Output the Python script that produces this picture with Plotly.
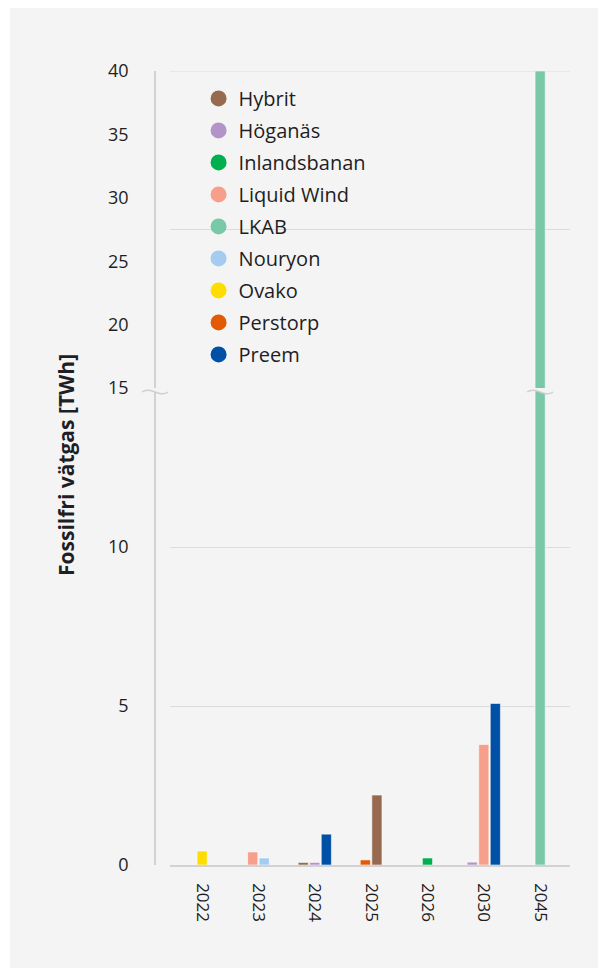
import plotly.graph_objects as go

# ---------------- data ----------------
years = ["2022", "2023", "2024", "2025", "2026", "2030", "2045"]
series_names = ["Hybrit", "Höganäs", "Inlandsbanan", "Liquid Wind", "LKAB",
                "Nouryon", "Ovako", "Perstorp", "Preem"]
hybrit = [0, 0, 0.08, 2.2, 0, 0, 0]
hoganas = [0, 0, 0.08, 0, 0, 0.09, 0]
inlandsbanan = [0, 0, 0, 0, 0.22, 0, 0]
liquid_wind = [0, 0.41, 0, 0, 0, 3.79, 0]
lkab = [0, 0, 0, 0, 0, 0, 40]
nouryon = [0, 0.22, 0, 0, 0, 0, 0]
ovako = [0.44, 0, 0, 0, 0, 0, 0]
perstorp = [0, 0, 0, 0.16, 0, 0, 0]
preem = [0, 0, 0.97, 0, 0, 5.08, 0]
values = [hybrit, hoganas, inlandsbanan, liquid_wind, lkab,
          nouryon, ovako, perstorp, preem]
colors = ["#976a50", "#b393c8", "#00b04f", "#f6a08c", "#79c8a7",
          "#a5cbf1", "#ffdd00", "#e25b04", "#0051a5"]
# order of bars inside a year group where it differs from the legend order
group_order = {"2025": ["Perstorp", "Hybrit"]}

lower_ticks = [0, 5, 10, 15]
upper_ticks = [20, 25, 30, 35, 40]
y_title = "Fossilfri vätgas [TWh]"

# ---------------- layout constants ----------------
W, H = 600, 970
ML, MR, MT, MB = 155, 30, 71, 105
PW, PH = W - ML - MR, H - MT - MB
x_dom0 = 15 / PW
split = 477 / PH
BG = "#f4f4f4"
GRID = "#dcdcdc"
TXT = "#1e1e24"
FONT = "Open Sans"
BAR_W = 0.18
BAR_STEP = 0.205

# compute offsets of bars inside each year group
offsets = {}
for yi, yr in enumerate(years):
    present = [n for n, v in zip(series_names, values) if v[yi] > 0]
    if yr in group_order:
        present = group_order[yr]
    n = len(present)
    for i, name in enumerate(present):
        offsets[(name, yr)] = -n * BAR_STEP / 2 + i * BAR_STEP + (BAR_STEP - BAR_W) / 2

fig = go.Figure()
for name, vals, col in zip(series_names, values, colors):
    xs = [yr for yr, v in zip(years, vals) if v > 0]
    ys = [v for v in vals if v > 0]
    offs = [offsets[(name, yr)] for yr in xs]
    for yax in ["y", "y2"]:
        fig.add_trace(go.Bar(
            x=xs, y=ys, name=name, xaxis="x", yaxis=yax,
            offset=offs, width=BAR_W,
            marker=dict(color=col, line=dict(color="rgba(255,255,255,0.55)", width=1)),
            showlegend=False, hoverinfo="x+y+name"))
    # legend entry with circle symbol
    fig.add_trace(go.Scatter(
        x=[None], y=[None], mode="markers", name=name, legendgroup=name,
        marker=dict(color=col, size=16, symbol="circle"), xaxis="x", yaxis="y"))

fig.update_layout(
    width=W, height=H,
    margin=dict(l=ML, r=MR, t=MT, b=MB, autoexpand=False),
    paper_bgcolor="white", plot_bgcolor="rgba(0,0,0,0)",
    font=dict(family=FONT, color=TXT),
    barmode="overlay",
    showlegend=True,
    legend=dict(x=0.105, y=0.99, xanchor="left", yanchor="top",
                bgcolor="rgba(0,0,0,0)", font=dict(size=20, color=TXT, family=FONT),
                tracegroupgap=3, itemclick=False, itemdoubleclick=False),
    xaxis=dict(domain=[x_dom0, 1], type="category", categoryorder="array",
               categoryarray=years, range=[-0.57, 6.53],
               showline=True, linecolor="#d2d2d2", linewidth=1.5,
               ticks="outside", ticklen=13, tickcolor="rgba(0,0,0,0)",
               tickangle=90, tickfont=dict(size=17, color=TXT),
               showgrid=False, anchor="y", fixedrange=True),
    yaxis=dict(domain=[0, split], range=[0, 15], tickvals=lower_ticks,
               anchor="free", position=0, showline=True, linecolor="#d2d2d2", linewidth=1.5,
               showgrid=True, gridcolor=GRID, gridwidth=1, zeroline=False,
               ticks="outside", ticklen=22, tickcolor="rgba(0,0,0,0)",
               tickfont=dict(size=18, color=TXT), fixedrange=True),
    yaxis2=dict(domain=[split, 1], range=[15, 40], tickvals=upper_ticks,
                anchor="free", position=0, showline=True, linecolor="#d2d2d2", linewidth=1.5,
                showgrid=False, zeroline=False,
                ticks="outside", ticklen=22, tickcolor="rgba(0,0,0,0)",
                tickfont=dict(size=18, color=TXT), fixedrange=True),
)

# panel background
fig.add_shape(type="rect", xref="paper", yref="paper", layer="below",
              x0=(10 - ML) / PW, x1=(598 - ML) / PW,
              y0=(PH + MT - 968) / PH, y1=(PH + MT - 8) / PH,
              fillcolor=BG, line=dict(width=0))
# upper-part gridlines
for gv in [27.5, 40]:
    fig.add_shape(type="line", xref="x domain", yref="y2", x0=0, x1=1, y0=gv, y1=gv,
                  layer="below", line=dict(color=GRID, width=1))

# axis break marks
def wave(dy):
    return f"M -13,{dy} C -4,{dy + 6} 4,{dy - 6} 13,{dy}"

fill_path = "M -13,4 C -4,10 4,-2 13,4 L 13,-4 C 4,-10 -4,2 -13,-4 Z"
# hide start of the 15 gridline next to the axis break
fig.add_shape(type="rect", xref="paper", yref="y", xsizemode="pixel", ysizemode="pixel",
              xanchor=0, yanchor=15, x0=0, x1=30, y0=-2, y1=2,
              fillcolor=BG, line=dict(width=0), layer="above")
for xref, xa in [("paper", 0), ("x", 6)]:
    fig.add_shape(type="path", xref=xref, yref="y", xsizemode="pixel", ysizemode="pixel",
                  xanchor=xa, yanchor=15, path=fill_path, fillcolor=BG,
                  line=dict(width=0), layer="above")
    for dy in [4, -4]:
        fig.add_shape(type="path", xref=xref, yref="y", xsizemode="pixel", ysizemode="pixel",
                      xanchor=xa, yanchor=15, path=wave(dy),
                      line=dict(color="#cfcfcf", width=1.5), layer="above")

fig.add_annotation(text=f"<b>{y_title}</b>", textangle=-90, xref="paper", yref="paper",
                   x=(66 - ML) / PW, y=(PH + MT - 465) / PH, showarrow=False,
                   xanchor="center", yanchor="middle",
                   font=dict(size=21, color=TXT, family=FONT))

fig.write_html("out.html")
